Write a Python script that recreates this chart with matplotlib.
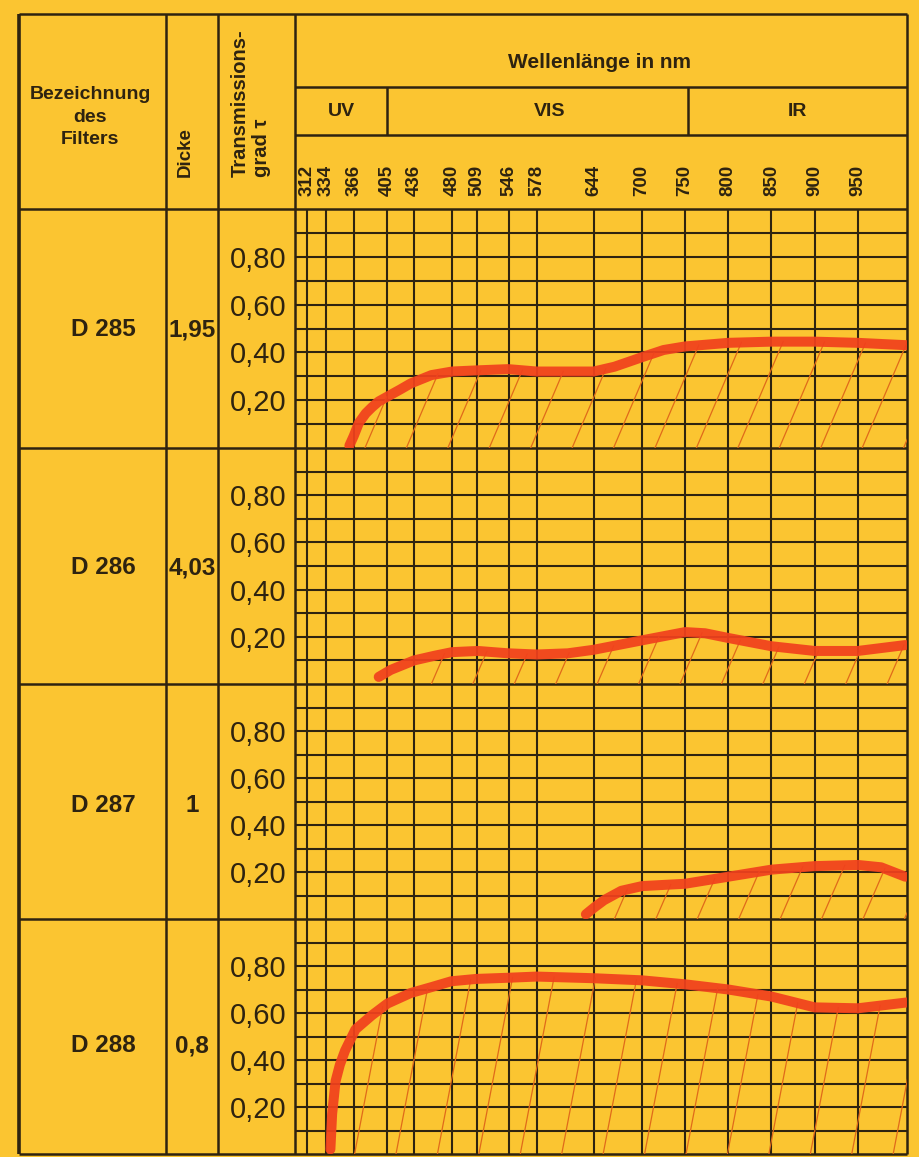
import numpy as np
import matplotlib.pyplot as plt

W, H = 920, 1157

# Rasterlinien: Wellenlängen in nm, Transmissionsgrad-Beschriftung
wellen = [312, 334, 366, 405, 436, 480, 509, 546, 578, 644, 700, 750, 800, 850, 900, 950]
y_ticks = [0.2, 0.4, 0.6, 0.8]
y_labels = ['0,20', '0,40', '0,60', '0,80']

filter_namen = ['D 285', 'D 286', 'D 287', 'D 288']
dicken = ['1,95', '4,03', '1', '0,8']

# Kurven
wl_285 = [361, 366, 372, 380, 387, 395, 405, 420, 432, 456, 480, 510, 545, 578, 614, 644, 668, 700, 725, 750, 800, 850, 900, 950, 1007]
t_285 = [0.01, 0.05, 0.105, 0.145, 0.17, 0.195, 0.215, 0.245, 0.27, 0.305, 0.32, 0.325, 0.33, 0.32, 0.32, 0.32, 0.34, 0.38, 0.41, 0.425, 0.44, 0.445, 0.445, 0.44, 0.43]

wl_286 = [395, 409, 436, 460, 480, 510, 545, 578, 614, 644, 700, 750, 773, 800, 850, 900, 950, 1005]
t_286 = [0.03, 0.06, 0.10, 0.12, 0.135, 0.14, 0.13, 0.125, 0.13, 0.145, 0.185, 0.22, 0.215, 0.195, 0.16, 0.14, 0.14, 0.165]

wl_287 = [635, 645, 656, 676, 700, 750, 800, 850, 900, 950, 977, 1005]
t_287 = [0.02, 0.05, 0.08, 0.12, 0.14, 0.15, 0.18, 0.21, 0.225, 0.23, 0.22, 0.18]

wl_288 = [339, 341, 345, 350, 356, 368, 387, 405, 432, 456, 479, 508, 545, 578, 644, 700, 750, 800, 850, 900, 950, 1007]
t_288 = [0.02, 0.17, 0.31, 0.38, 0.44, 0.53, 0.59, 0.64, 0.685, 0.71, 0.735, 0.745, 0.75, 0.755, 0.748, 0.739, 0.722, 0.70, 0.67, 0.624, 0.62, 0.645]

kurven = [(wl_285, t_285), (wl_286, t_286), (wl_287, t_287), (wl_288, t_288)]

# Farben / Layout (Pixel)
gelb = '#fbc531'
tinte = '#2e2310'
rot = '#f1411d'
schraff = '#e06a1a'
zeilen = [209, 448, 684, 919, 1154]
label_y = [330, 568, 805, 1046]
schraff_start = [379, 456, 668, 367]
schraff_lauf = [118, 118, 118, 52]   # nm pro Transmissionseinheit

plt.rcParams['font.family'] = ['Liberation Sans', 'DejaVu Sans']

fig = plt.figure(figsize=(W / 100, H / 100), dpi=100, facecolor=gelb)

# Tabellenrahmen und Beschriftungen (Pixelkoordinaten)
fr = fig.add_axes([0, 0, 1, 1])
fr.set_xlim(0, W)
fr.set_ylim(H, 0)
fr.axis('off')
fr.hlines([14, 209, 448, 684, 919, 1154], 19, 907, color=tinte, lw=1.8)
fr.hlines([87, 135], 295, 907, color=tinte, lw=1.8)
fr.vlines([166, 218, 295, 907], 14, 1154, color=tinte, lw=1.8)
fr.vlines([19], 14, 1154, color=tinte, lw=2.6)
fr.vlines([387, 688], 87, 135, color=tinte, lw=1.8)

fr.text(600, 63, 'Wellenlänge in nm', ha='center', va='center', fontsize=15, fontweight='bold', color=tinte)
fr.text(341, 111, 'UV', ha='center', va='center', fontsize=14, fontweight='bold', color=tinte)
fr.text(550, 111, 'VIS', ha='center', va='center', fontsize=14, fontweight='bold', color=tinte)
fr.text(797, 111, 'IR', ha='center', va='center', fontsize=14, fontweight='bold', color=tinte)
fr.text(90, 117, 'Bezeichnung\ndes\nFilters', ha='center', va='center', fontsize=14,
        fontweight='bold', color=tinte, linespacing=1.45)
fr.text(185, 177, 'Dicke', rotation=90, ha='center', va='bottom', fontsize=13.5,
        fontweight='bold', color=tinte)
fr.text(251, 177, 'Transmissions-\ngrad τ', rotation=90, ha='center', va='bottom',
        multialignment='left', fontsize=14.5, fontweight='bold', color=tinte, linespacing=1.15)

for i in range(4):
    fr.text(103, label_y[i], filter_namen[i], ha='center', va='center', fontsize=17.5,
            fontweight='bold', color=tinte)
    fr.text(192, label_y[i], dicken[i], ha='center', va='center', fontsize=17.5,
            fontweight='bold', color=tinte)

# Diagramme
for i in range(4):
    top, bot = zeilen[i], zeilen[i + 1]
    ax = fig.add_axes([295 / W, 1 - bot / H, (907 - 295) / W, (bot - top) / H])
    ax.set_facecolor('none')
    ax.set_xlim(298, 1007)
    ax.set_ylim(0, 1)
    ax.set_xticks(wellen, [str(w) for w in wellen], fontweight='bold')
    ax.set_yticks(y_ticks, y_labels)
    ax.set_yticks(np.arange(0.1, 1.0, 0.1), minor=True)
    ax.grid(True, which='both', color=tinte, lw=1.5, zorder=1)
    ax.set_axisbelow(True)
    ax.tick_params(which='both', length=0)
    ax.tick_params(axis='y', labelsize=21, pad=6, colors=tinte)
    ax.tick_params(axis='x', labelbottom=False, labeltop=(i == 0), labelrotation=90,
                   labelsize=13.5, pad=9, colors=tinte)
    for s in ax.spines.values():
        s.set_visible(False)

    wl, t = kurven[i]
    # Schraffur unter der Kurve
    tt = np.linspace(0, 1, 600)
    for x0 in np.arange(schraff_start[i], wl[-1], 48):
        xs = x0 + schraff_lauf[i] * tt
        cs = np.interp(xs, wl, t)
        k = np.argmax(tt >= cs)
        ax.plot([x0, xs[k]], [0, tt[k]], color=schraff, lw=0.9, zorder=2)
    ax.plot(wl, t, color=rot, lw=7.2, solid_capstyle='round', solid_joinstyle='round',
            alpha=0.93, zorder=3)

fig.savefig('out.png', dpi=100, facecolor=gelb)
